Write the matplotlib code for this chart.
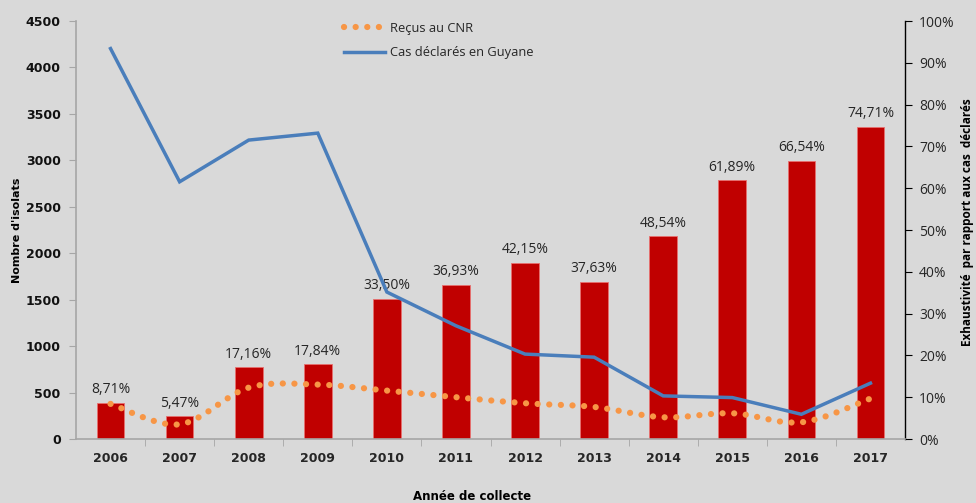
import matplotlib.pyplot as plt
import numpy as np
from matplotlib.path import Path
from matplotlib.patches import PathPatch
from matplotlib.lines import Line2D

years = ['2006', '2007', '2008', '2009', '2010', '2011',
         '2012', '2013', '2014', '2015', '2016', '2017']
# exhaustivite (%) - bars, right axis
exhaust = [8.71, 5.47, 17.16, 17.84, 33.50, 36.93,
           42.15, 37.63, 48.54, 61.89, 66.54, 74.71]
exhaust_labels = ['8,71%', '5,47%', '17,16%', '17,84%', '33,50%', '36,93%',
                  '42,15%', '37,63%', '48,54%', '61,89%', '66,54%', '74,71%']
# counts - left axis
recus_cnr = [378, 158, 553, 586, 521, 450, 385, 345, 234, 277, 180, 435]
cas_declares = [4203, 2769, 3218, 3293, 1582, 1219, 914, 881, 464, 446, 266, 601]

bg = '#D9D9D9'
bar_color = '#C00000'
orange = '#F79646'
blue = '#4A7EBB'
txt = '#262626'
dots = (0, (0.01, 1.85))

plt.rcParams['font.family'] = ['DejaVu Sans']

fig = plt.figure(figsize=(9.76, 5.03), dpi=100, facecolor=bg)
ax = fig.add_axes([76 / 976, 1 - 439 / 503, 829 / 976, 418 / 503])
ax.set_facecolor(bg)
ax2 = ax.twinx()

x = np.arange(len(years))

# bars on the percentage axis
ax2.bar(x, exhaust, width=0.4, color=bar_color, edgecolor='#E8706F',
        linewidth=0.6, zorder=1)
for xi, v, lab in zip(x, exhaust, exhaust_labels):
    ax2.annotate(lab, (xi, v), xytext=(0, 4), textcoords='offset points',
                 ha='center', va='bottom', fontsize=10, color=txt,
                 family='Open Sans')

# smoothed dotted line (Excel-like bezier smoothing through the points)
pts = np.column_stack([x, recus_cnr]).astype(float)
verts = [tuple(pts[0])]
codes = [Path.MOVETO]
for i in range(len(pts) - 1):
    p0 = pts[max(i - 1, 0)]
    p1 = pts[i]
    p2 = pts[i + 1]
    p3 = pts[min(i + 2, len(pts) - 1)]
    c1 = p1 + (p2 - p0) / 6.0
    c2 = p2 - (p3 - p1) / 6.0
    verts += [tuple(c1), tuple(c2), tuple(p2)]
    codes += [Path.CURVE4] * 3
ax.add_patch(PathPatch(Path(verts, codes), facecolor='none', edgecolor=orange,
                       linewidth=4.5, linestyle=dots,
                       capstyle='round', zorder=3))

ax.plot(x, cas_declares, color=blue, linewidth=2.5, zorder=4,
        solid_joinstyle='miter')

ax.set_zorder(ax2.get_zorder() + 1)
ax.patch.set_visible(False)

ax.set_xlim(-0.5, len(years) - 0.5)
ax.set_ylim(0, 4500)
ax2.set_ylim(0, 100)
ax.set_yticks(np.arange(0, 4501, 500))
ax2.set_yticks(np.arange(0, 101, 10))
ax2.set_yticklabels([f'{v}%' for v in range(0, 101, 10)])

ax.set_xticks(x)
ax.set_xticklabels(years, fontsize=9, fontweight='bold', color=txt)
ax.set_xticks(np.arange(0.5, len(years) - 1, 1), minor=True)
ax.tick_params(axis='x', which='major', length=0, pad=9)
ax.tick_params(axis='x', which='minor', length=5, color='#A6A6A6', direction='out')
ax.tick_params(axis='y', length=5, color='#A6A6A6', labelsize=9, pad=6)
for t in ax.get_yticklabels():
    t.set_fontweight('bold')
    t.set_color('#111111')
ax2.tick_params(axis='y', length=5, color='black', labelsize=10, pad=5,
                labelcolor=txt)
for t in ax2.get_yticklabels():
    t.set_family('Open Sans')

for a in (ax, ax2):
    for s in a.spines.values():
        s.set_visible(False)
ax.spines['left'].set_visible(True)
ax.spines['left'].set_color('#A6A6A6')
ax.spines['left'].set_linewidth(1.2)
ax.spines['bottom'].set_visible(True)
ax.spines['bottom'].set_color('#A6A6A6')
ax.spines['bottom'].set_linewidth(1.2)
ax2.spines['right'].set_visible(True)
ax2.spines['right'].set_color('black')
ax2.spines['right'].set_linewidth(1.0)

fig.text(17 / 976, 1 - 230 / 503, "Nombre d'isolats", rotation=90,
         ha='center', va='center', fontsize=8, fontweight='bold', color='black')
fig.text(968 / 976, 1 - 222 / 503, 'Exhaustivité  par rapport aux cas  déclarés',
         rotation=90, ha='center', va='center', fontsize=8.5,
         fontweight='bold', color='black', family='Open Sans')
fig.text(472 / 976, 1 - 497 / 503, 'Année de collecte', ha='center',
         va='center', fontsize=8.5, fontweight='bold', color='black')

handles = [Line2D([], [], color=orange, linewidth=4.5, linestyle=dots,
                  dash_capstyle='round'),
           Line2D([], [], color=blue, linewidth=2.5)]
leg = fig.legend(handles, ['Reçus au CNR', 'Cas déclarés en Guyane'],
                 loc='upper left', bbox_to_anchor=(332 / 976, 1 - 10 / 503),
                 frameon=False, handlelength=3.2,
                 handletextpad=0.4, labelspacing=0.9,
                 prop={'family': 'Open Sans', 'size': 9.3})
for t in leg.get_texts():
    t.set_color(txt)

fig.savefig('out.png', dpi=100, facecolor=bg)
